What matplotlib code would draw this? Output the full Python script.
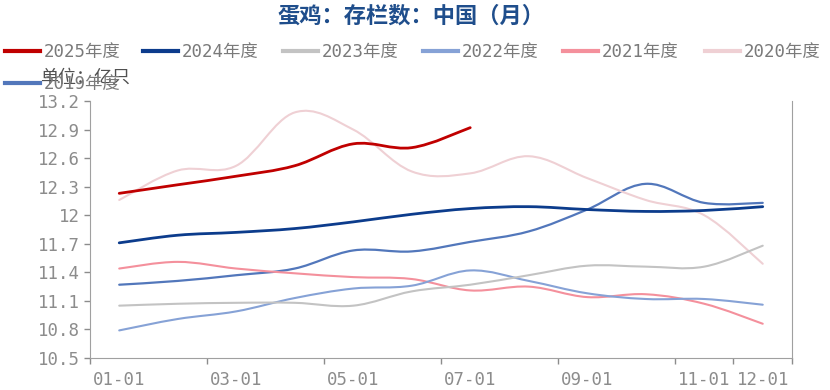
import numpy as np
import matplotlib.pyplot as plt
from matplotlib.path import Path
from matplotlib.patches import PathPatch
from matplotlib.lines import Line2D

plt.rcParams['font.family'] = ['DejaVu Sans Mono', 'Noto Sans CJK SC']

# monthly values, one point per month (category axis)
months = list(range(12))

y2025 = [12.23, 12.32, 12.41, 12.52, 12.75, 12.71, 12.92]
y2024 = [11.71, 11.79, 11.82, 11.86, 11.93, 12.01, 12.07, 12.09, 12.06, 12.04, 12.05, 12.09]
y2023 = [11.05, 11.07, 11.08, 11.08, 11.05, 11.20, 11.27, 11.37, 11.47, 11.46, 11.46, 11.68]
y2022 = [10.79, 10.91, 10.99, 11.13, 11.23, 11.26, 11.42, 11.31, 11.18, 11.12, 11.12, 11.06]
y2021 = [11.44, 11.51, 11.44, 11.39, 11.35, 11.33, 11.21, 11.25, 11.14, 11.17, 11.07, 10.86]
y2020 = [12.16, 12.47, 12.52, 13.08, 12.90, 12.46, 12.44, 12.62, 12.39, 12.16, 12.00, 11.49]
y2019 = [11.27, 11.31, 11.37, 11.44, 11.63, 11.62, 11.72, 11.83, 12.06, 12.33, 12.13, 12.13]

series = [
    ('2025年度', y2025, '#c00000', 2.0),
    ('2024年度', y2024, '#0c3c8c', 2.0),
    ('2023年度', y2023, '#c3c3c3', 1.5),
    ('2022年度', y2022, '#86a2d6', 1.5),
    ('2021年度', y2021, '#f4909c', 1.5),
    ('2020年度', y2020, '#efd0d4', 1.5),
    ('2019年度', y2019, '#5277bb', 1.6),
]

label_pos = [0, 2, 4, 6, 8, 10, 11]
tick_labels = ['01-01', '03-01', '05-01', '07-01', '09-01', '11-01', '12-01']


def smooth_path(x, y, s=0.35):
    # bezier path through the points (drawing style only)
    pts = np.column_stack([x, y]).astype(float)
    verts = [pts[0]]
    codes = [Path.MOVETO]
    n = len(pts)
    for i in range(n - 1):
        p0 = pts[i - 1] if i > 0 else pts[i]
        p1 = pts[i]
        p2 = pts[i + 1]
        p3 = pts[i + 2] if i + 2 < n else pts[i + 1]
        c1 = p1 + (p2 - p0) * s / 2
        c2 = p2 - (p3 - p1) * s / 2
        verts += [c1, c2, p2]
        codes += [Path.CURVE4] * 3
    return Path(verts, codes)


fig = plt.figure(figsize=(8.3, 3.9), dpi=100)
ax = fig.add_axes([0.1084, 0.082, 0.8458, 0.659])

for name, vals, color, lw in series[::-1]:
    p = smooth_path(months[:len(vals)], vals)
    ax.add_patch(PathPatch(p, fill=False, edgecolor=color, lw=lw, capstyle='round'))

ax.set_xlim(-0.5, 11.5)
ax.set_ylim(10.5, 13.2)
yt = np.round(np.arange(10.5, 13.21, 0.3), 1)
ax.set_yticks(yt)
ax.set_yticklabels(['12' if abs(v - 12) < 1e-6 else f'{v:.1f}' for v in yt])
# ticks on category boundaries, labels centred on the months
ax.set_xticks([b - 0.5 for b in label_pos] + [11.5])
ax.set_xticklabels([])
ax.set_xticks(label_pos, minor=True)
ax.set_xticklabels(tick_labels, minor=True)
ax.tick_params(axis='x', which='minor', length=0, pad=9)
ax.tick_params(colors='#8c8c8c', labelsize=12.5, length=4, width=1)
ax.tick_params(axis='x', which='minor', colors='#8c8c8c', labelsize=12.5)
for side in ['left', 'bottom', 'right']:
    ax.spines[side].set_color('#a0a0a0')
ax.spines['top'].set_visible(False)

fig.text(0.495, 0.958, '蛋鸡：存栏数：中国（月）', ha='center', va='center',
         color='#1f4e8c', fontsize=16, fontweight='bold', family='Noto Sans CJK SC')

# legend: six entries on the first row, one on the second
leg_xy = [(5, 52), (143, 52), (283, 52), (423, 52), (563, 52), (705, 52), (5, 84)]
for (name, vals, color, lw), (px, py) in zip(series, leg_xy):
    h = Line2D([], [], color=color, lw=3)
    leg = fig.legend(handles=[h], labels=[name], loc='center left',
                     bbox_to_anchor=(px / 830, 1 - py / 390), frameon=False,
                     fontsize=12.5, handlelength=2.0, handletextpad=0.25,
                     borderaxespad=0, borderpad=0)
    leg.get_texts()[0].set_color('#7a7a7a')

fig.text(40 / 830, 1 - 78 / 390, '单位：亿只', ha='left', va='center', color='#505050',
         fontsize=13, family='Noto Sans CJK SC')

fig.savefig('out.png', dpi=100)
